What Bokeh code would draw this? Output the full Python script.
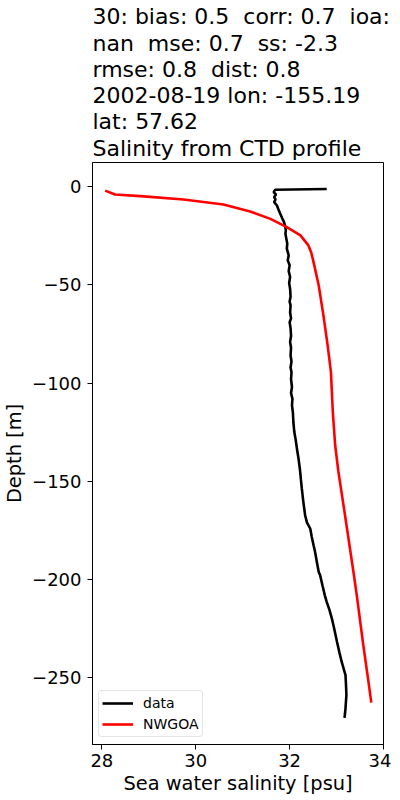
from bokeh.plotting import figure
from bokeh.models import Range1d, FixedTicker, Legend, LegendItem
from bokeh.embed import file_html
from bokeh.resources import INLINE

# ---- data ----
data_salinity = [32.79, 31.69, 31.66, 31.71, 31.67, 31.70, 31.67, 31.73, 31.76, 31.80,
                 31.84, 31.88, 31.90, 31.92, 31.91, 31.93, 31.95, 31.94, 31.98, 31.96,
                 32.00, 31.98, 32.01, 31.99, 32.01, 32.02, 32.00, 32.02, 32.01, 32.03,
                 32.00, 32.02, 32.03, 32.01, 32.03, 32.02, 32.04, 32.02, 32.04, 32.03,
                 32.05, 32.03, 32.06, 32.05, 32.07, 32.08, 32.10, 32.13, 32.16, 32.19,
                 32.22, 32.24, 32.26, 32.29, 32.33, 32.37, 32.44, 32.47, 32.51, 32.53,
                 32.55, 32.58, 32.62, 32.65, 32.70, 32.75, 32.79, 32.85, 32.90, 32.95,
                 33.01, 33.06, 33.11, 33.16, 33.19, 33.20, 33.21, 33.20, 33.19, 33.18,
                 33.17]
data_depth = [-1.2, -1.6, -2.8, -4.0, -5.3, -6.5, -7.9, -9.6, -11.5, -13.8,
              -16.0, -18.0, -19.7, -22.0, -24.0, -26.5, -29.0, -31.5, -35.0, -37.5,
              -40.0, -43.0, -46.0, -49.0, -52.0, -56.0, -58.5, -60.4, -64.0, -67.0,
              -69.0, -72.0, -76.0, -79.0, -82.0, -85.9, -89.0, -92.0, -94.4, -98.0,
              -102.0, -105.0, -108.0, -111.3, -115.0, -120.0, -124.9, -129.0, -134.0, -138.5,
              -144.0, -149.0, -153.7, -160.0, -167.2, -171.0, -174.1, -178.0, -182.5, -184.5,
              -187.0, -191.0, -196.1, -197.8, -203.0, -208.0, -211.3, -215.5, -219.8, -225.0,
              -231.7, -237.0, -241.9, -246.0, -248.6, -253.0, -258.8, -262.0, -265.6, -268.0,
              -270.3]

model_salinity = [28.07, 28.28, 28.82, 29.74, 30.59, 31.16, 31.59, 31.94, 32.23, 32.40,
                  32.46, 32.51, 32.62, 32.72, 32.81, 32.88, 32.92, 32.97, 33.04, 33.18,
                  33.36, 33.43, 33.57, 33.68, 33.74]
model_depth = [-2.0, -4.0, -4.8, -6.5, -9.1, -12.6, -16.4, -20.6, -24.8, -29.9,
               -33.5, -38.4, -50.3, -65.5, -80.8, -94.4, -114.7, -131.6, -145.2, -167.2,
               -196.1, -207.9, -233.4, -252.0, -262.6]

x_ticks = [28, 30, 32, 34]
y_ticks = [0, -50, -100, -150, -200, -250]
title_lines = [
    "30: bias: 0.5  corr: 0.7  ioa:",
    "nan  mse: 0.7  ss: -2.3",
    "rmse: 0.8  dist: 0.8",
    "2002-08-19 lon: -155.19",
    "lat: 57.62",
    "Salinity from CTD profile",
]
series_names = ["data", "NWGOA"]

FONT = "DejaVu Sans"
# keep double spaces visible in SVG text
title_text = "\n".join(line.replace("  ", " \u00a0") for line in title_lines)

p = figure(
    frame_width=291, frame_height=582,
    min_border_left=85, min_border_right=8, min_border_top=159, min_border_bottom=46,
    x_range=Range1d(27.80, 34.00), y_range=Range1d(-283.9, 12.3),
    output_backend="svg", toolbar_location=None,
    title=title_text,
)
p.background_fill_color = "white"
p.border_fill_color = "white"
p.outline_line_color = "black"
p.outline_line_width = 1
p.grid.visible = False

p.title.text_font = FONT
p.title.text_font_size = "22px"
p.title.text_font_style = "normal"
p.title.text_color = "black"
p.title.align = "left"
p.title.text_line_height = 1.05
p.title.standoff = 4

r1 = p.line(data_salinity, data_depth, line_color="black", line_width=2.6)
r2 = p.line(model_salinity, model_depth, line_color="red", line_width=2.6)

for ax in (p.xaxis[0], p.yaxis[0]):
    ax.axis_line_color = "black"
    ax.major_tick_line_color = "black"
    ax.major_tick_out = 5
    ax.major_tick_in = 0
    ax.minor_tick_line_color = None
    ax.major_label_text_font = FONT
    ax.major_label_text_font_size = "18px"
    ax.major_label_text_color = "black"
    ax.axis_label_text_font = FONT
    ax.axis_label_text_font_size = "19.4px"
    ax.axis_label_text_font_style = "normal"
    ax.axis_label_text_color = "black"

p.xaxis.ticker = FixedTicker(ticks=x_ticks)
p.yaxis.ticker = FixedTicker(ticks=y_ticks)
p.yaxis.major_label_overrides = {t: (str(t).replace("-", "\u2212")) for t in y_ticks}
p.xaxis.major_label_standoff = 4
p.yaxis.major_label_standoff = 6
p.xaxis.axis_label = "Sea water salinity [psu]"
p.yaxis.axis_label = "Depth [m]"
p.xaxis.axis_label_standoff = 2
p.yaxis.axis_label_standoff = 3

legend = Legend(
    items=[LegendItem(label=series_names[0], renderers=[r1]),
           LegendItem(label=series_names[1], renderers=[r2])],
    location=(6, 7),
    label_text_font=FONT, label_text_font_size="14px", label_text_color="black",
    glyph_width=31, glyph_height=18, label_height=18, label_standoff=10,
    spacing=3, padding=3, margin=0,
    border_line_color="#cccccc", border_line_width=1,
    background_fill_color="white", background_fill_alpha=0.8,
)
legend.border_radius = 4
p.add_layout(legend, "center")

open("out.html", "w").write(file_html(p, INLINE))
